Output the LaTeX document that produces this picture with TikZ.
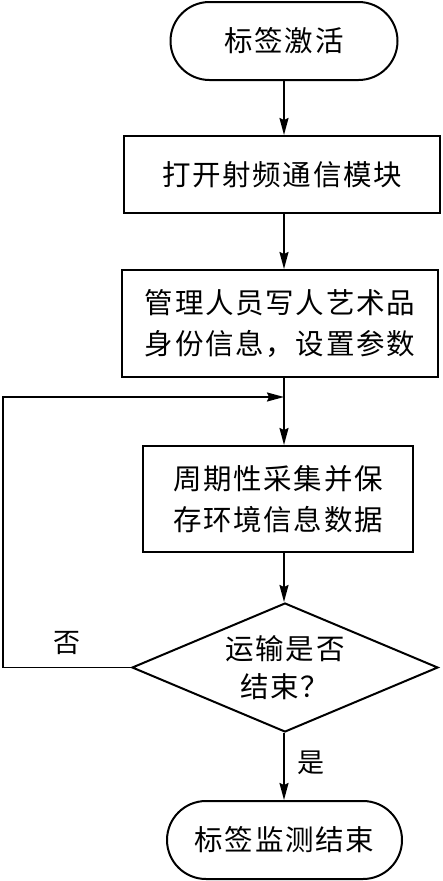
\documentclass[tikz,border=0pt]{standalone}
\usepackage{fontspec}
\usetikzlibrary{shapes.misc,shapes.geometric,arrows.meta}
\newfontfamily\cjk[LetterSpace=6]{Noto Sans CJK SC}
\tikzset{
  every node/.style={font=\cjk\fontsize{28.5}{41}\selectfont, align=center, inner sep=0pt},
  term/.style={rounded rectangle, draw, line width=2pt},
  procbox/.style={rectangle, draw, line width=2pt},
  decide/.style={diamond, draw, line width=2pt, shape aspect=2.37},
  conn/.style={line width=1.7pt, -{Stealth[length=17pt,width=9pt,inset=2pt]}},
  lbl/.style={font=\cjk\fontsize{27}{30}\selectfont}
}
\begin{document}
\begin{tikzpicture}[x=1pt,y=-1pt]
\useasboundingbox (0,0) rectangle (442,881);
\node[term, minimum width=227pt, minimum height=78pt] (start) at (284,41) {标签激活};
\node[procbox, minimum width=316pt, minimum height=77pt] (b1) at (282,174.5) {打开射频通信模块};
\node[procbox, minimum width=316pt, minimum height=107pt] (b2) at (280,323.5) {管理人员写人艺术品\\身份信息，设置参数};
\node[procbox, minimum width=270pt, minimum height=106pt] (b3) at (278,499) {周期性采集并保\\存环境信息数据};
\node[decide, minimum width=306pt, minimum height=129pt] (dia) at (285,667.5) {};
\node[font=\cjk\fontsize{28.5}{38}\selectfont] (diatext) at (dia.center) {运输是否\\结束？};
\node[term, minimum width=235pt, minimum height=78pt] (end) at (284.5,840) {标签监测结束};
\coordinate (J) at (284,397);
\coordinate (L1) at (3,667.5);
\coordinate (L2) at (3,397);
\node[lbl] (no) at (67,643) {否};
\node[lbl] (yes) at (311,763) {是};
\draw[conn] (start.south) -- (start.south |- b1.north);
\draw[conn] (b1.south -| start.south) -- (start.south |- b2.north);
\draw[conn] (b2.south -| start.south) -- (start.south |- b3.north);
\draw[conn] (b3.south -| start.south) -- (start.south |- dia.north);
\draw[conn] (dia.south -| start.south) -- (start.south |- end.north);
\draw[conn] (dia.west) -- (L1) -- (L2) -- (J);
\end{tikzpicture}
\end{document}
